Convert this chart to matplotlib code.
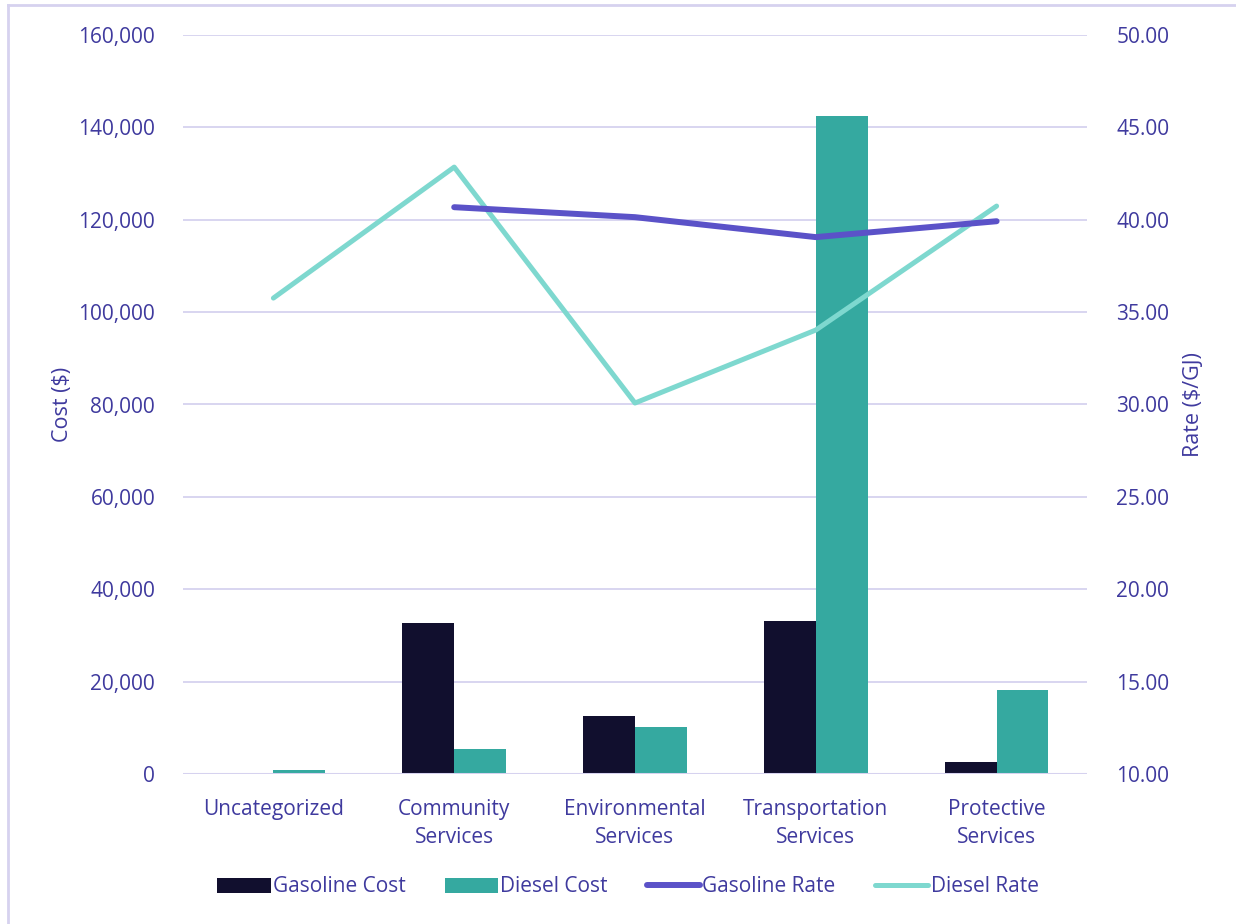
import matplotlib
matplotlib.use("Agg")
import matplotlib.pyplot as plt
import numpy as np
from matplotlib.lines import Line2D
from matplotlib.patches import Patch
from matplotlib.ticker import FuncFormatter

categories = ["Uncategorized", "Community\nServices", "Environmental\nServices",
              "Transportation\nServices", "Protective\nServices"]
gasoline_cost = [0, 32700, 12600, 33100, 2600]
diesel_cost = [900, 5400, 10200, 142400, 18200]
gasoline_rate = [np.nan, 40.68, 40.14, 39.06, 39.92]
diesel_rate = [35.76, 42.85, 30.08, 34.03, 40.74]

C_GC = "#110F2E"
C_DC = "#35A9A0"
C_GR = "#5B52C8"
C_DR = "#7ED8CF"
C_TXT = "#3F3A9E"
C_GRID = "#D6D2EF"

plt.rcParams['font.family'] = ['Open Sans', 'DejaVu Sans']

fig = plt.figure(figsize=(12.36, 9.24), dpi=100)
ax = fig.add_axes([183/1236, 1-774/924, (1087-183)/1236, (774-35)/924])
ax2 = ax.twinx()

x = np.arange(len(categories))
w = 0.287
ax.bar(x - w/2, gasoline_cost, w, color=C_GC, zorder=2)
ax.bar(x + w/2, diesel_cost, w, color=C_DC, zorder=2)
ax.set_ylim(0, 160000)
ax.set_xlim(-0.5, len(categories) - 0.5)
ax.set_yticks(np.arange(0, 160001, 20000))
ax.yaxis.set_major_formatter(FuncFormatter(lambda v, p: f"{int(v):,}"))
ax.grid(axis='y', color=C_GRID, linewidth=1.3, zorder=0)
ax.set_axisbelow(True)

ax2.plot(x, gasoline_rate, color=C_GR, linewidth=4.3, solid_capstyle='round', zorder=5)
ax2.plot(x, diesel_rate, color=C_DR, linewidth=3.6, solid_capstyle='round', zorder=4)
ax2.set_ylim(10, 50)
ax2.set_yticks(np.arange(10, 50.1, 5))
ax2.yaxis.set_major_formatter(FuncFormatter(lambda v, p: f"{v:.2f}"))

ax.set_zorder(1)
ax2.set_zorder(2)
ax2.patch.set_visible(False)

for a in (ax, ax2):
    for s in ['top', 'left', 'right', 'bottom']:
        a.spines[s].set_visible(False)
    a.tick_params(axis='both', length=0, labelcolor=C_TXT, labelsize=15)
ax.axhline(0, color=C_GRID, linewidth=2.2, zorder=3)

ax.set_xticks(x)
ax.set_xticklabels(categories, fontsize=15, color=C_TXT, linespacing=1.42)
ax.tick_params(axis='x', pad=18)
ax.tick_params(axis='y', pad=20)
ax2.tick_params(axis='y', pad=21)

ax.set_ylabel("Cost ($)", fontsize=15.5, color=C_TXT, labelpad=4)
ax2.set_ylabel("Rate ($/GJ)", fontsize=15.5, color=C_TXT, labelpad=10)

handles = [Patch(facecolor=C_GC), Patch(facecolor=C_DC),
           Line2D([0], [0], color=C_GR, linewidth=4.3, solid_capstyle='round'),
           Line2D([0], [0], color=C_DR, linewidth=3.6, solid_capstyle='round')]
labels = ["Gasoline Cost", "Diesel Cost", "Gasoline Rate", "Diesel Rate"]
leg = fig.legend(handles, labels, loc='center', bbox_to_anchor=(628/1236, 1-887/924),
                 ncol=4, frameon=False, fontsize=15, handlelength=2.55,
                 handleheight=0.7, handletextpad=0.1, columnspacing=1.9)
for t in leg.get_texts():
    t.set_color(C_TXT)

fig.add_artist(Line2D([8/1236, 8/1236], [0, 1-5/924], color=C_GRID, linewidth=2, transform=fig.transFigure))
fig.add_artist(Line2D([8/1236, 1], [1-5/924, 1-5/924], color=C_GRID, linewidth=2, transform=fig.transFigure))

fig.savefig("out.png", dpi=100, facecolor='white')
